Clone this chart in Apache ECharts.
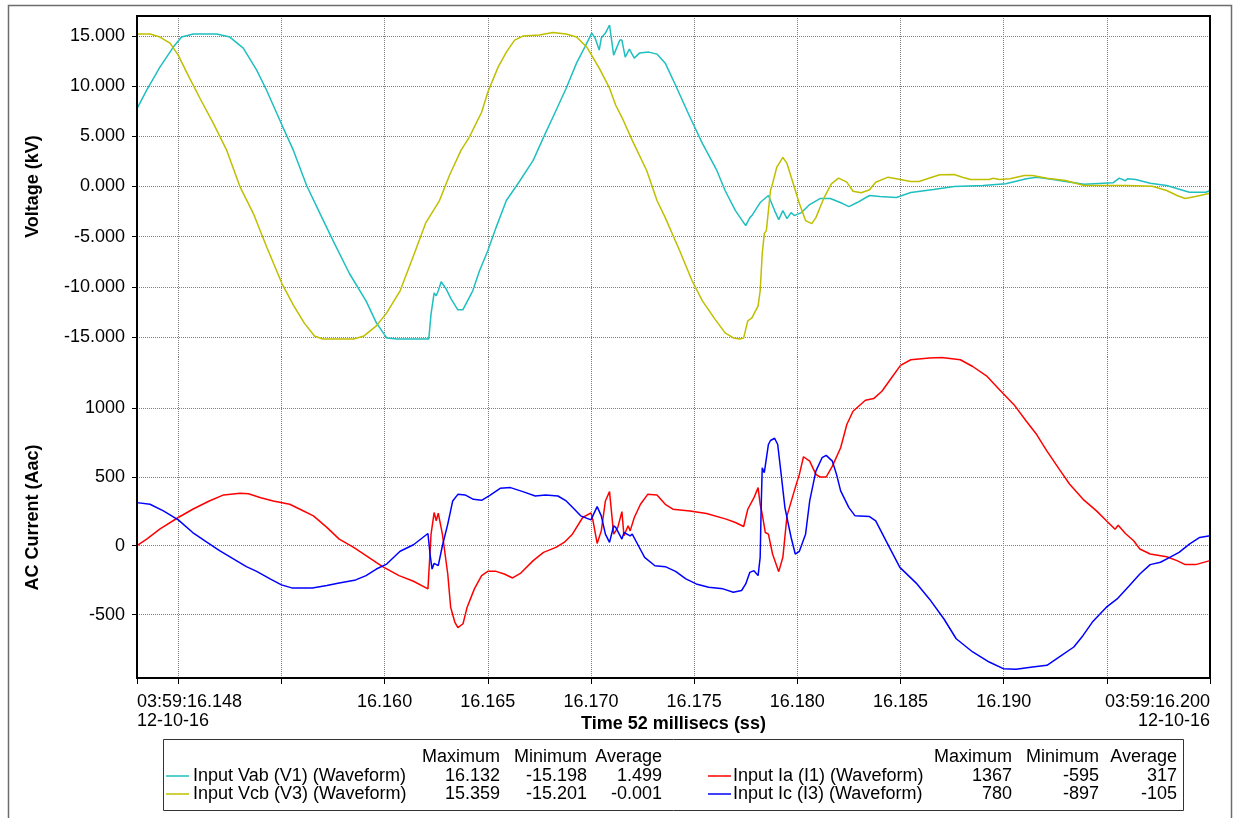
<!DOCTYPE html>
<html><head><meta charset="utf-8">
<script src="https://cdn.jsdelivr.net/npm/echarts@6/dist/echarts.min.js"></script>
<style>html,body{margin:0;padding:0;background:#fff}#c{width:1234px;height:818px}</style>
</head><body><div id="c"></div>
<script>
// time axis in ms after 03:59:16.148
const xTickMs = [0, 2, 7, 12, 17, 22, 27, 32, 37, 42, 47, 52];
const xLabelMs = [0, 12, 17, 22, 27, 32, 37, 42, 52];
const xLabelText = ['03:59:16.148\n12-10-16', '16.160', '16.165', '16.170', '16.175', '16.180', '16.185', '16.190', '03:59:16.200\n12-10-16'];
const voltTicks = [-15, -10, -5, 0, 5, 10, 15];
const currTicks = [-500, 0, 500, 1000];

// [ms, kV]
const vabPoints = [[0,7.77],[0.47,9.6],[1.11,11.9],[1.76,13.9],[2.16,14.9],[2.73,15.2],[3.86,15.2],[4.5,14.9],[5.15,13.8],[5.8,11.6],[6.28,9.6],[7.03,6.1],[7.58,3.6],[8.22,0.1],[8.87,-2.7],[9.5,-5.4],[10.3,-8.7],[11.1,-11.4],[11.6,-13.6],[12.1,-15.1],[12.6,-15.2],[13.7,-15.2],[14.14,-15.2],[14.25,-12.7],[14.4,-10.6],[14.5,-10.9],[14.6,-10.4],[14.74,-9.5],[14.98,-10.2],[15.22,-11.2],[15.55,-12.3],[15.79,-12.3],[16.27,-10.4],[16.6,-8.4],[17,-6.4],[17.4,-4.1],[17.9,-1.4],[18.5,0.4],[19.2,2.6],[19.7,4.9],[20.2,7.1],[20.8,9.8],[21.3,12.3],[21.7,13.9],[22.04,15.3],[22.2,14.8],[22.4,13.6],[22.5,14.8],[22.7,15.3],[22.9,16.1],[23.1,13.1],[23.4,14.6],[23.5,14.6],[23.66,12.9],[23.86,13.7],[24.1,12.8],[24.35,13.3],[24.8,13.4],[25.2,13.2],[25.6,12.3],[26.1,10.1],[26.8,6.9],[27.4,4.3],[28.1,1.6],[28.5,-0.4],[29.0,-2.4],[29.5,-3.9],[29.7,-3.1],[29.8,-2.9],[30.2,-1.6],[30.6,-0.9],[30.9,-2.4],[31.1,-3.3],[31.3,-2.4],[31.5,-3.2],[31.7,-2.6],[31.85,-2.9],[32.2,-2.6],[32.6,-1.8],[33.1,-1.2],[33.6,-1.2],[34.2,-1.7],[34.5,-2.0],[34.9,-1.6],[35.5,-0.9],[36.0,-1.0],[36.8,-1.1],[37.5,-0.6],[38.6,-0.3],[39.6,0.0],[41.0,0.1],[42.1,0.27],[43.1,0.77],[43.6,0.93],[44.4,0.7],[45.0,0.5],[45.9,0.23],[47.3,0.37],[47.6,0.83],[47.9,0.57],[48.0,0.77],[48.4,0.7],[49.1,0.33],[49.9,0.1],[51.0,-0.57],[51.8,-0.57],[52,-0.4]];
const vcbPoints = [[0,15.2],[0.63,15.2],[1.11,14.9],[1.6,14.3],[2.0,13.1],[2.4,11.4],[3.05,8.8],[3.7,6.3],[4.35,3.6],[5.0,-0.07],[5.64,-2.7],[6.3,-6.1],[7.03,-9.7],[7.6,-11.9],[8.1,-13.6],[8.6,-14.9],[9.0,-15.2],[10.5,-15.2],[11.0,-14.9],[11.6,-13.9],[12.1,-12.6],[12.75,-10.4],[13.4,-6.9],[14.0,-3.6],[14.66,-1.4],[15.14,1.1],[15.7,3.6],[16.1,4.9],[16.7,7.4],[17.0,9.4],[17.5,11.9],[17.9,13.4],[18.3,14.6],[18.7,15.0],[19.5,15.1],[20.15,15.36],[20.8,15.2],[21.3,14.9],[21.8,13.9],[22.4,11.8],[22.9,9.8],[23.2,8.1],[23.5,6.9],[24.0,4.6],[24.7,1.6],[25.2,-1.4],[25.6,-3.1],[26.3,-6.4],[26.9,-9.4],[27.4,-11.4],[28.0,-13.2],[28.5,-14.6],[28.9,-15.1],[29.2,-15.2],[29.4,-15.1],[29.6,-13.4],[29.8,-13.1],[30.1,-11.9],[30.2,-10.4],[30.3,-6.7],[30.4,-4.7],[30.5,-4.4],[30.7,-0.4],[30.8,0.27],[31.0,1.9],[31.3,2.9],[31.5,2.3],[31.8,0.3],[32.1,-1.7],[32.4,-3.4],[32.7,-3.7],[32.9,-3.1],[33.3,-1.1],[33.65,0.27],[34.0,0.83],[34.4,0.43],[34.7,-0.47],[35.1,-0.63],[35.5,-0.33],[35.8,0.43],[36.4,0.93],[37.0,0.7],[37.5,0.5],[37.9,0.5],[38.3,0.77],[38.9,1.17],[39.6,1.2],[40.0,0.93],[40.4,0.7],[41.3,0.7],[41.5,0.83],[41.8,0.7],[42.3,0.77],[43.0,1.1],[43.4,1.1],[44.1,0.83],[45.0,0.6],[45.9,0.1],[46.7,0.1],[47.95,0.1],[49.2,0.03],[49.9,-0.4],[50.4,-0.9],[50.8,-1.2],[51.3,-1.0],[52,-0.67]];
// [ms, A]
const iaPoints = [[0,0],[0.47,48],[1.1,120],[2.0,205],[2.7,265],[3.5,325],[4.2,369],[5.0,381],[5.4,378],[6.0,349],[6.6,325],[7.4,301],[7.9,265],[8.55,217],[9.2,133],[9.8,48],[10.5,-12],[11.1,-72],[11.9,-152],[12.7,-217],[13.4,-258],[14.1,-313],[14.25,84],[14.4,241],[14.5,181],[14.6,236],[14.8,84],[15.06,-205],[15.2,-446],[15.4,-554],[15.55,-595],[15.8,-566],[16.0,-446],[16.35,-313],[16.7,-217],[17.0,-186],[17.4,-186],[17.8,-205],[18.2,-234],[18.6,-198],[19.2,-108],[19.7,-48],[20.3,-12],[20.7,24],[21.1,84],[21.6,205],[22.0,239],[22.1,181],[22.3,17],[22.5,108],[22.7,325],[22.9,393],[23.1,84],[23.2,108],[23.3,133],[23.5,248],[23.6,72],[23.8,145],[23.9,108],[24.1,205],[24.4,301],[24.75,373],[25.2,369],[25.6,301],[25.97,265],[26.8,253],[27.6,234],[28.55,193],[29.0,169],[29.4,140],[29.6,265],[29.9,349],[30.1,422],[30.2,301],[30.3,229],[30.45,96],[30.6,84],[30.8,-60],[31.1,-188],[31.3,-84],[31.5,217],[31.9,422],[32.1,518],[32.3,646],[32.6,614],[32.9,518],[33.1,499],[33.4,499],[33.7,578],[34.1,711],[34.4,880],[34.7,976],[35.3,1056],[35.7,1068],[36.1,1121],[36.5,1205],[37.0,1309],[37.5,1350],[38.4,1362],[39.0,1367],[39.9,1350],[40.5,1301],[41.2,1229],[41.8,1133],[42.5,1024],[43.1,904],[43.6,807],[44.1,687],[44.7,554],[45.2,446],[45.85,337],[46.5,253],[46.98,181],[47.4,120],[47.55,149],[47.9,89],[48.3,36],[48.6,-24],[49.1,-60],[49.9,-80],[50.4,-108],[50.8,-137],[51.3,-137],[52,-108]];
const icPoints = [[0,313],[0.63,301],[1.28,253],[2.0,188],[2.7,96],[3.4,24],[4.0,-36],[4.67,-96],[5.3,-152],[5.8,-186],[6.45,-241],[7.0,-284],[7.5,-306],[8.5,-306],[9.2,-289],[9.8,-270],[10.6,-248],[11.1,-217],[11.6,-169],[12.1,-133],[12.75,-40],[13.4,7],[14.1,89],[14.2,-60],[14.3,-169],[14.4,-128],[14.6,-145],[14.8,0],[15.06,157],[15.3,325],[15.55,373],[15.9,369],[16.3,337],[16.7,330],[17.1,366],[17.6,417],[18.1,422],[18.7,393],[19.3,361],[19.8,369],[20.4,361],[20.8,325],[21.2,265],[21.5,217],[22.0,188],[22.3,284],[22.5,217],[22.7,84],[22.9,24],[23.1,145],[23.2,133],[23.5,48],[23.6,96],[23.9,72],[24.0,84],[24.3,0],[24.6,-84],[25.1,-145],[25.6,-152],[26.1,-186],[26.6,-241],[27.1,-277],[27.7,-301],[28.4,-313],[28.9,-337],[29.3,-325],[29.5,-277],[29.7,-193],[29.9,-181],[30.1,-217],[30.2,-84],[30.25,289],[30.3,566],[30.4,530],[30.6,735],[30.7,764],[30.9,780],[31.05,735],[31.2,542],[31.4,277],[31.7,60],[31.9,-60],[32.1,-40],[32.4,84],[32.6,325],[32.9,542],[33.2,639],[33.4,656],[33.7,614],[33.9,518],[34.1,398],[34.5,277],[34.8,217],[35.5,212],[35.8,181],[36.3,36],[36.97,-157],[37.8,-277],[38.4,-386],[39.1,-530],[39.7,-675],[40.5,-771],[41.3,-844],[41.98,-892],[42.6,-897],[43.4,-880],[44.1,-868],[44.7,-807],[45.4,-735],[45.85,-651],[46.3,-554],[46.98,-446],[47.5,-386],[48.1,-289],[48.6,-205],[49.1,-137],[49.6,-120],[50.05,-84],[50.5,-48],[51.0,12],[51.5,60],[52,72]];

const seriesNames = ['Input Vab (V1) (Waveform)', 'Input Vcb (V3) (Waveform)', 'Input Ia (I1) (Waveform)', 'Input Ic (I3) (Waveform)'];
const statHeaders = ['Maximum', 'Minimum', 'Average'];
const statMax = ['16.132', '15.359', '1367', '780'];
const statMin = ['-15.198', '-15.201', '-595', '-897'];
const statAvg = ['1.499', '-0.001', '317', '-105'];

const colors = ['#1fbfbf', '#bfbf00', '#ff0000', '#0000ff'];
const FONT = "'Liberation Sans', Arial, sans-serif";

const chart = echarts.init(document.getElementById('c'), null, {renderer: 'canvas'});

const splitLine = {show: true, lineStyle: {color: '#7f7f7f', type: 'dotted', width: 1}};

function xAxis(idx, showLabels) {
  return {
    type: 'value', gridIndex: idx, min: 0, max: 52,
    axisLine: {show: showLabels, onZero: false, lineStyle: {color: '#000', width: 2}},
    axisTick: {show: showLabels, customValues: xTickMs, length: 6, lineStyle: {color: '#000', width: 1}},
    axisLabel: showLabels ? {
      show: true, customValues: xLabelMs, fontFamily: FONT, fontSize: 18, color: '#000',
      margin: 15, lineHeight: 19, alignMinLabel: 'left', alignMaxLabel: 'right',
      formatter: v => { const i = xLabelMs.indexOf(Math.round(v)); return i >= 0 ? xLabelText[i] : ''; }
    } : {show: false},
    splitLine: splitLine,
    name: showLabels ? 'Time 52 millisecs (ss)' : '',
    nameLocation: 'middle', nameGap: 37, nameMoveOverlap: false,
    nameTextStyle: {fontFamily: FONT, fontSize: 18, fontWeight: 'bold', color: '#000'}
  };
}
function yAxis(idx, name, min, max, ticks, fmt) {
  return {
    type: 'value', gridIndex: idx, min: min, max: max,
    axisLine: {show: true, onZero: false, lineStyle: {color: '#000', width: 2}},
    axisTick: {show: true, customValues: ticks, length: 5, lineStyle: {color: '#000'}},
    axisLabel: {show: true, customValues: ticks, fontFamily: FONT, fontSize: 18, color: '#000', margin: 12, formatter: fmt},
    splitLine: splitLine,
    name: name, nameLocation: 'middle', nameGap: 95,
    nameTextStyle: {fontFamily: FONT, fontSize: 18, fontWeight: 'bold', color: '#000'}
  };
}

function lineSeries(name, pts, xi, yi, color) {
  return {
    name: name, type: 'line', xAxisIndex: xi, yAxisIndex: yi, data: pts,
    showSymbol: false, symbol: 'none', clip: true,
    lineStyle: {color: color, width: 1.5}, itemStyle: {color: color}
  };
}

// legend / statistics table as text
const graphics = [];
graphics.push({type: 'rect', shape: {x: 8.5, y: 5.5, width: 1223, height: 840}, style: {fill: 'none', stroke: '#6d6d6d', lineWidth: 1.5}, silent: true});
graphics.push({type: 'rect', shape: {x: 137, y: 16, width: 1073, height: 662}, style: {fill: 'none', stroke: '#000', lineWidth: 2}, silent: true, z: 10});
graphics.push({type: 'rect', shape: {x: 163.5, y: 739.5, width: 1020, height: 71}, style: {fill: '#fff', stroke: '#333', lineWidth: 1}, silent: true});
const tables = [
  {lineX: 166, nameX: 193, cols: [500, 587, 662], rows: [0, 1]},
  {lineX: 708, nameX: 733, cols: [1012, 1099, 1177], rows: [2, 3]}
];
const rowY = [776, 794];
const hdrY = 757;
const tf = {fontFamily: FONT, fontSize: 18, fill: '#000'};
tables.forEach(t => {
  statHeaders.forEach((h, k) => graphics.push({type: 'text', style: Object.assign({}, tf, {x: t.cols[k], y: hdrY, text: h, align: 'right', verticalAlign: 'middle'}), silent: true}));
  t.rows.forEach((si, r) => {
    const y = rowY[r];
    graphics.push({type: 'line', shape: {x1: t.lineX, y1: y, x2: t.lineX + 23, y2: y}, style: {stroke: colors[si], lineWidth: 1.5}, silent: true});
    graphics.push({type: 'text', style: Object.assign({}, tf, {x: t.nameX, y: y, text: seriesNames[si], align: 'left', verticalAlign: 'middle'}), silent: true});
    [statMax, statMin, statAvg].forEach((arr, k) => graphics.push({type: 'text', style: Object.assign({}, tf, {x: t.cols[k], y: y, text: arr[si], align: 'right', verticalAlign: 'middle'}), silent: true}));
  });
});

chart.setOption({
  animation: false,
  backgroundColor: '#fff',
  grid: [
    {left: 137, top: 16, width: 1073, height: 341, containLabel: false},
    {left: 137, top: 357, width: 1073, height: 321, containLabel: false}
  ],
  xAxis: [xAxis(0, false), xAxis(1, true)],
  yAxis: [
    yAxis(0, 'Voltage (kV)', -17, 17, voltTicks, v => v.toFixed(3)),
    yAxis(1, 'AC Current (Aac)', -960, 1370, currTicks, v => String(v))
  ],
  series: [
    lineSeries(seriesNames[0], vabPoints, 0, 0, colors[0]),
    lineSeries(seriesNames[1], vcbPoints, 0, 0, colors[1]),
    lineSeries(seriesNames[2], iaPoints, 1, 1, colors[2]),
    lineSeries(seriesNames[3], icPoints, 1, 1, colors[3])
  ],
  graphic: graphics
});
</script></body></html>
